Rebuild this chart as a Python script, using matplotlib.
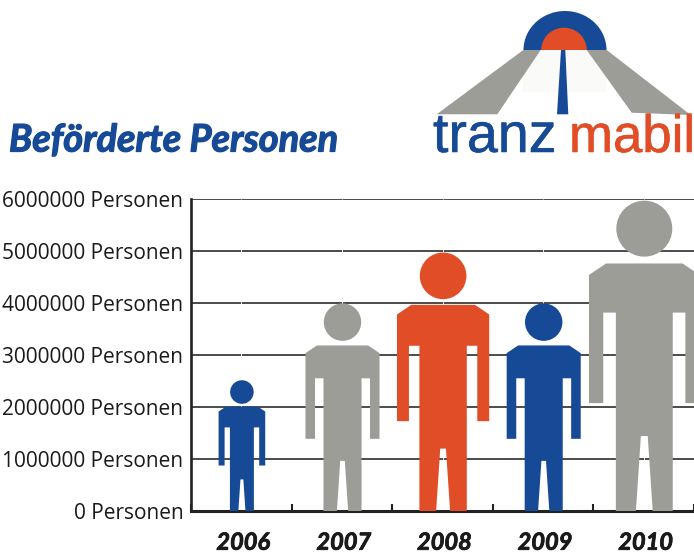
import matplotlib
matplotlib.use('Agg')
import matplotlib.pyplot as plt
import matplotlib.patheffects as pe
from matplotlib.patches import Polygon, Ellipse, Rectangle

years = ['2006', '2007', '2008', '2009', '2010']
persons = [2520000, 4000000, 4980000, 4000000, 5980000]
y_ticks = [0, 1000000, 2000000, 3000000, 4000000, 5000000, 6000000]

BLUE = '#174a96'
RED = '#e04d26'
GRAY = '#9d9d98'
person_colors = [BLUE, GRAY, RED, BLUE, GRAY]

# outline of one person, height 1, half is mirrored
person_right = [(0.123, 0.796), (0.178, 0.759), (0.178, 0.347), (0.132, 0.347),
                (0.132, 0.638), (0.0915, 0.638), (0.0915, 0.0), (0.027, 0.0),
                (0.011, 0.241)]

W, H = 694, 554
fig = plt.figure(figsize=(W / 100, H / 100), dpi=100)
ax = fig.add_axes([191 / W, (H - 511) / H, (W - 191) / W, 312 / H])
ax.set_xlim(0, 5)
ax.set_ylim(0, 6000000)

# person width has to stay proportional to height in pixels
x_per_y = (312 / 6000000) / (W - 191) * 5

for i, value in enumerate(persons):
    cx = i + 0.506
    sx = value * x_per_y
    pts = [(cx + u * sx, v * value) for u, v in person_right]
    pts += [(cx, 0.241 * value)]
    pts += [(cx - u * sx, v * value) for u, v in reversed(person_right)]
    ax.add_patch(Polygon(pts, closed=True, facecolor=person_colors[i], edgecolor='none', zorder=3))
    ax.add_patch(Ellipse((cx, 0.908 * value), 2 * 0.09 * sx, 2 * 0.09 * value,
                         facecolor=person_colors[i], edgecolor='none', zorder=3))

ax.vlines([i + 0.5 for i in range(5)], 0, 6000000, color='white', linewidth=0.6, zorder=2)

ax.set_yticks(y_ticks)
ax.set_yticklabels([str(v) + ' Personen' for v in y_ticks], fontfamily='Open Sans', fontsize=15, color='#1a1a1a')
ax.tick_params(axis='y', length=0, pad=5.5)
ax.set_xticks(range(0, 6))
ax.set_xticklabels([])
ax.tick_params(axis='x', direction='in', length=5, width=1.5, color='#222222')
ax.grid(axis='y', color='#3d3d3d', linewidth=1.3, zorder=1)
ax.set_axisbelow(True)
ax.spines['right'].set_visible(False)
ax.spines['top'].set_visible(False)
ax.spines['left'].set_linewidth(1.9)
ax.spines['left'].set_color('#222222')
ax.spines['bottom'].set_linewidth(2.2)
ax.spines['bottom'].set_color('#222222')
for i, year in enumerate(years):
    ax.text(i + 0.52, -0.1, year, transform=ax.get_xaxis_transform(), ha='center', va='center',
            fontfamily='Lato', fontsize=17, fontweight='bold', fontstyle='italic', color='#1a1a1a',
            path_effects=[pe.withStroke(linewidth=0.6, foreground='#1a1a1a')])

# title and logo in pixel coordinates of the image
over = fig.add_axes([0, 0, 1, 1], zorder=5)
over.set_xlim(0, W)
over.set_ylim(H, 0)
over.axis('off')
over.text(9, 140, 'Beförderte Personen', ha='left', va='center', fontfamily='Lato',
          fontsize=27.3, fontweight='bold', fontstyle='italic', color=BLUE,
          path_effects=[pe.withStroke(linewidth=0.9, foreground=BLUE)])

over.add_patch(Rectangle((523, 50), 83, 42, facecolor='#fafaf8', edgecolor='none'))
over.add_patch(Polygon([(523.3, 50), (540.7, 50), (497.3, 114.3), (436.7, 114.3)], facecolor=GRAY, edgecolor='none'))
over.add_patch(Polygon([(586.7, 50), (606.7, 50), (690.7, 115), (631.7, 112.7)], facecolor=GRAY, edgecolor='none'))
over.add_patch(Polygon([(561, 50), (565.3, 50), (568.3, 114.3), (557, 114.3)], facecolor=BLUE, edgecolor='none'))
# half ellipses, cut off at the road line
arch_clip = Rectangle((500, 0), 130, 50, transform=over.transData)
outer = Ellipse((565, 50), 83, 78, facecolor=BLUE, edgecolor='none')
inner = Ellipse((564, 50), 45.5, 44.6, facecolor=RED, edgecolor='none')
over.add_patch(outer)
over.add_patch(inner)
outer.set_clip_path(arch_clip)
inner.set_clip_path(arch_clip)
over.text(433, 152, 'tranz', ha='left', va='baseline', fontfamily='Liberation Sans', fontsize=40, color=BLUE,
          path_effects=[pe.withStroke(linewidth=0.4, foreground=BLUE)])
over.text(569, 152, 'mabil', ha='left', va='baseline', fontfamily='Liberation Sans', fontsize=38, color=RED,
          path_effects=[pe.withStroke(linewidth=0.4, foreground=RED)])

fig.savefig('out.png', dpi=100)
